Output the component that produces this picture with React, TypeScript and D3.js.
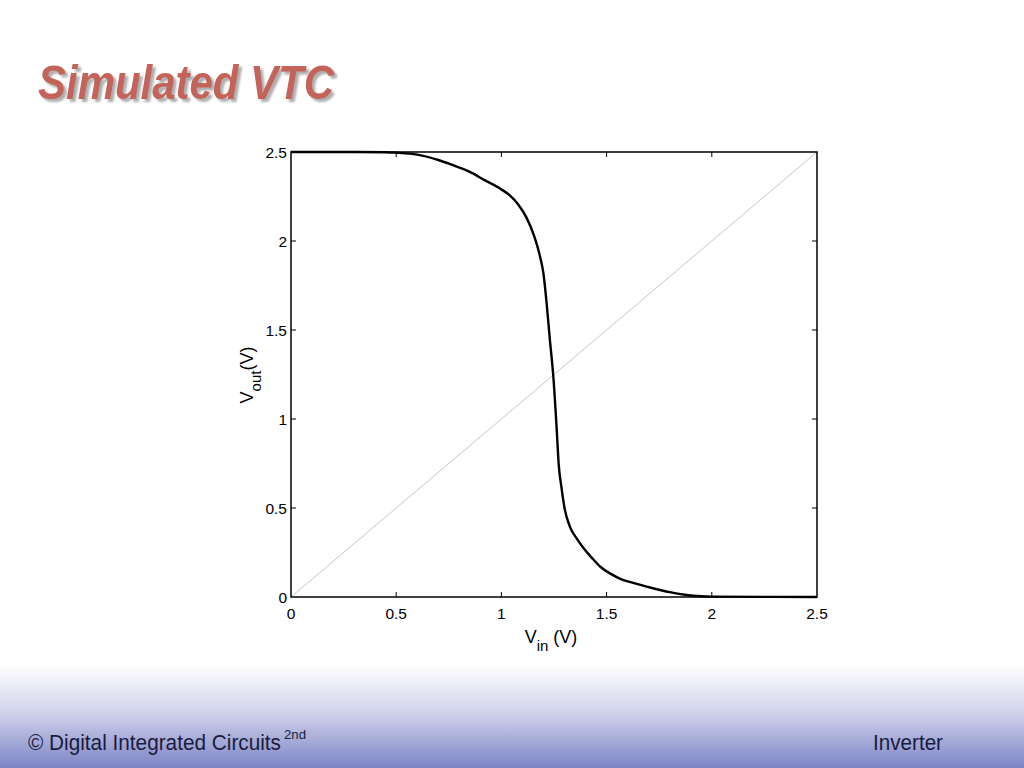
import React, { useEffect, useRef } from "react";
import * as d3 from "d3";

// simulated inverter transfer curve
const vin = [0, 0.3, 0.45, 0.5, 0.6, 0.7, 0.76, 0.85, 0.92, 1.0, 1.04, 1.08, 1.12, 1.155, 1.18, 1.2, 1.215, 1.23, 1.247, 1.263, 1.272, 1.285, 1.3, 1.326, 1.36, 1.39, 1.43, 1.47, 1.52, 1.56, 1.64, 1.72, 1.8, 1.88, 1.95, 2.0, 2.5];
const vout = [2.5, 2.5, 2.499, 2.496, 2.485, 2.455, 2.43, 2.388, 2.342, 2.29, 2.256, 2.205, 2.13, 2.03, 1.93, 1.816, 1.65, 1.45, 1.235, 0.94, 0.75, 0.62, 0.5, 0.394, 0.325, 0.275, 0.22, 0.17, 0.13, 0.105, 0.075, 0.049, 0.027, 0.011, 0.004, 0.002, 0];
const ticks = [0, 0.5, 1, 1.5, 2, 2.5];
const innerTicks = [0.5, 1, 1.5, 2];

const W = 1024;
const H = 768;
const plot = { left: 291, right: 817, top: 152, bottom: 597 };

const App: React.FC = () => {
  const ref = useRef<SVGSVGElement | null>(null);

  useEffect(() => {
    const svg = d3.select(ref.current);
    svg.selectAll("*").remove();
    svg.attr("width", W).attr("height", H);

    const defs = svg.append("defs");
    const grad = defs
      .append("linearGradient")
      .attr("id", "foot")
      .attr("x1", 0)
      .attr("y1", 0)
      .attr("x2", 0)
      .attr("y2", 1);
    grad.append("stop").attr("offset", "0%").attr("stop-color", "#ffffff");
    grad.append("stop").attr("offset", "45%").attr("stop-color", "#d2d4ec");
    grad.append("stop").attr("offset", "100%").attr("stop-color", "#7c84c6");

    const shadow = defs.append("filter").attr("id", "shadow").attr("x", "-5%").attr("y", "-20%").attr("width", "115%").attr("height", "150%");
    shadow
      .append("feDropShadow")
      .attr("dx", 3)
      .attr("dy", 3)
      .attr("stdDeviation", 1)
      .attr("flood-color", "#999")
      .attr("flood-opacity", 0.8);

    svg.append("rect").attr("width", W).attr("height", H).attr("fill", "#fff");
    svg.append("rect").attr("x", 0).attr("y", 665).attr("width", W).attr("height", H - 665).attr("fill", "url(#foot)");

    const font = "'Liberation Sans', Arial, sans-serif";

    // title
    svg
      .append("text")
      .attr("x", 38)
      .attr("y", 99)
      .attr("font-family", font)
      .attr("font-weight", "bold")
      .attr("font-style", "italic")
      .attr("font-size", 49)
      .attr("textLength", 296)
      .attr("lengthAdjust", "spacingAndGlyphs")
      .attr("fill", "#c3635a")
      .attr("filter", "url(#shadow)")
      .text("Simulated VTC");

    const x = d3.scaleLinear().domain([0, 2.5]).range([plot.left, plot.right]);
    const y = d3.scaleLinear().domain([0, 2.5]).range([plot.bottom, plot.top]);

    // diagonal reference
    svg
      .append("line")
      .attr("x1", x(0))
      .attr("y1", y(0))
      .attr("x2", x(2.5))
      .attr("y2", y(2.5))
      .attr("stroke", "#b8b8b8")
      .attr("stroke-width", 0.8);

    const pts: [number, number][] = vin.map((v, i) => [v, vout[i]]);
    const line = d3
      .line<[number, number]>()
      .x((d) => x(d[0]))
      .y((d) => y(d[1]))
      .curve(d3.curveMonotoneX);
    svg
      .append("path")
      .attr("d", line(pts)!)
      .attr("fill", "none")
      .attr("stroke", "#000")
      .attr("stroke-width", 2.4)
      .attr("stroke-linejoin", "round");

    // box
    svg
      .append("rect")
      .attr("x", plot.left)
      .attr("y", plot.top)
      .attr("width", plot.right - plot.left)
      .attr("height", plot.bottom - plot.top)
      .attr("fill", "none")
      .attr("stroke", "#000")
      .attr("stroke-width", 1.5);

    const tk = svg.append("g").attr("stroke", "#000").attr("stroke-width", 1);
    innerTicks.forEach((t) => {
      tk.append("line").attr("x1", x(t)).attr("x2", x(t)).attr("y1", plot.bottom).attr("y2", plot.bottom - 5);
      tk.append("line").attr("x1", x(t)).attr("x2", x(t)).attr("y1", plot.top).attr("y2", plot.top + 5);
      tk.append("line").attr("y1", y(t)).attr("y2", y(t)).attr("x1", plot.left).attr("x2", plot.left + 5);
      tk.append("line").attr("y1", y(t)).attr("y2", y(t)).attr("x1", plot.right).attr("x2", plot.right - 5);
    });

    const lab = svg.append("g").attr("font-family", font).attr("font-size", 15.5).attr("fill", "#000");
    ticks.forEach((t) => {
      lab
        .append("text")
        .attr("x", x(t))
        .attr("y", plot.bottom + 22)
        .attr("text-anchor", "middle")
        .text(String(t));
      lab
        .append("text")
        .attr("x", plot.left - 4)
        .attr("y", y(t) + 5.5)
        .attr("text-anchor", "end")
        .text(String(t));
    });

    // axis labels
    const xl = svg
      .append("text")
      .attr("x", 551)
      .attr("y", 643)
      .attr("text-anchor", "middle")
      .attr("font-family", font)
      .attr("font-size", 18);
    xl.append("tspan").text("V");
    xl.append("tspan").attr("font-size", 15).attr("dy", 8).text("in");
    xl.append("tspan").attr("dy", -8).text(" (V)");

    const yl = svg
      .append("text")
      .attr("transform", `translate(253,375) rotate(-90)`)
      .attr("text-anchor", "middle")
      .attr("font-family", font)
      .attr("font-size", 18);
    yl.append("tspan").text("V");
    yl.append("tspan").attr("font-size", 15).attr("dy", 8).text("out");
    yl.append("tspan").attr("dy", -8).text("(V)");

    // footer
    const foot = svg.append("g").attr("font-family", font).attr("fill", "#1b1b3c");
    const credit = foot.append("text").attr("x", 28).attr("y", 750).attr("font-size", 22);
    credit
      .append("tspan")
      .attr("textLength", 253)
      .attr("lengthAdjust", "spacingAndGlyphs")
      .text("© Digital Integrated Circuits");
    credit
      .append("tspan")
      .attr("x", 284)
      .attr("dy", -11)
      .attr("font-size", 13)
      .attr("textLength", 22)
      .attr("lengthAdjust", "spacingAndGlyphs")
      .text("2nd");
    foot
      .append("text")
      .attr("x", 873)
      .attr("y", 750)
      .attr("font-size", 22)
      .attr("textLength", 70)
      .attr("lengthAdjust", "spacingAndGlyphs")
      .text("Inverter");
  }, []);

  return (
    <svg
      ref={ref}
      style={{ position: "absolute", left: 0, top: 0, display: "block" }}
    />
  );
};

export default App;
